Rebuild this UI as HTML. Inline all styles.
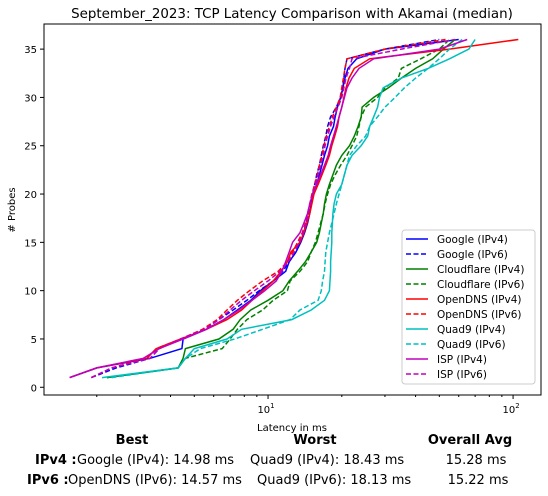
<!DOCTYPE html>
<html><head><meta charset="utf-8">
<style>
body{margin:0;width:548px;height:496px;background:#fff;overflow:hidden;font-family:"DejaVu Sans","Liberation Sans",sans-serif;}
svg{position:absolute;left:0;top:0}
</style></head>
<body>
<svg id="chart" width="548" height="496" font-family="DejaVu Sans, Liberation Sans, sans-serif"></svg>
<script>
const probes = [1,2,3,4,5,6,7,8,9,10,11,12,13,14,15,16,17,18,19,20,21,22,23,24,25,26,27,28,29,30,31,32,33,34,35,36];
const googleV4 = [1.55,2.0,3.3,4.45,4.5,5.6,6.6,7.5,8.5,9.3,10.5,11.8,12.2,13,13.6,14.1,14.5,14.8,15.0,15.2,15.8,16.2,16.6,17,17.5,17.8,18.5,18.8,19.2,19.8,20.2,20.6,21.2,23,30,60];
const googleV6 = [1.9,2.4,3.3,3.6,4.4,5.5,6.3,7.2,8.2,9.2,10.5,11.5,12.2,13,13.5,14,14.3,14.6,14.9,15.2,15.5,15.8,16.2,16.5,16.8,17.2,17.5,18,19,19.8,20.2,20.4,20.6,21,30,50];
const cloudV4 = [2.2,4.3,4.5,4.6,6.3,7.2,7.7,8.5,10,11.5,12.2,13.2,14.2,15,15.8,16.2,16.5,16.8,17,17.3,17.8,18.4,19,20,21.5,22.5,23.3,24,24.2,27,31,35,40,47,52,58];
const cloudV6 = [2.2,4.3,4.6,6.5,7.0,7.5,8.2,9.5,10.5,12,12.3,13.5,14.5,15.0,15.6,16,16.4,16.8,17.1,17.5,18,18.8,19.8,21,22,23,23.5,24,25,28,30,34,35,42,50,55];
const openV4 = [1.55,2.0,3.2,3.5,4.4,5.6,6.8,7.8,8.6,9.5,10.5,11.3,12.0,12.4,13.5,14,14.4,14.8,15.1,15.4,16,16.6,17.2,17.8,18.2,18.7,19.2,19.5,20,20.4,20.8,21.4,22.5,26,55,105];
const openV6 = [1.9,2.3,3.2,3.5,4.4,5.4,6.2,6.8,7.5,8.4,9.5,11,12,12.6,13.2,13.8,14.2,14.5,14.8,15.1,15.5,15.9,16.2,16.6,16.9,17.3,17.8,18.3,19,19.7,20,20.3,20.6,21,30,53];
const quadV4 = [2.1,4.3,4.6,5.0,6.8,7.8,12.5,15,17,17.8,17.9,18,18,18.1,18.2,18.2,18.3,18.4,18.6,19,20,20.5,21,22,24,25.5,26,27,28,28.5,29.5,35,45,55,66,70];
const quadV6 = [2.3,4.3,4.6,5.3,7.3,9.5,12.3,13.5,16,16.5,16.7,17,17.1,17.2,17.5,17.8,18.2,18.6,19,19.5,20,20.5,21,21.5,23,25,26,28,30,33,36,40,45,50,55,62];
const ispV4 = [1.55,2.0,3.1,3.6,4.5,5.6,6.6,7.6,8.6,9.7,10.8,11.4,11.8,12.2,12.6,13.5,14,14.5,14.8,15.2,15.8,16.4,17,17.6,18,18.5,19,19.5,20,20.5,21,22,23.5,27,50,65];
const ispV6 = [1.9,2.3,3.3,3.6,4.4,5.5,6.3,7.0,7.8,8.8,10,11.2,12.1,12.8,13.4,13.9,14.3,14.6,14.9,15.2,15.6,16,16.4,16.8,17.1,17.5,18,18.6,19.3,20,20.4,20.8,21.5,22,35,58];
const seriesNames = ["Google (IPv4)","Google (IPv6)","Cloudflare (IPv4)","Cloudflare (IPv6)","OpenDNS (IPv4)","OpenDNS (IPv6)","Quad9 (IPv4)","Quad9 (IPv6)","ISP (IPv4)","ISP (IPv6)"];
const seriesData = [googleV4,googleV6,cloudV4,cloudV6,openV4,openV6,quadV4,quadV6,ispV4,ispV6];
const seriesColors = ["#0000ff","#0000ff","#008000","#008000","#ff0000","#ff0000","#00bfbf","#00bfbf","#bf00bf","#bf00bf"];
const yTicks = [0,5,10,15,20,25,30,35];

const NS="http://www.w3.org/2000/svg";
const svg=document.getElementById('chart');
const L=44,R=541,T=24,B=395;
const xmin=Math.log10(1.218), xmax=Math.log10(130);
const ymin=-0.8, ymax=37.6;
function xs(v){return L+(Math.log10(v)-xmin)/(xmax-xmin)*(R-L);}
function ys(v){return B-(v-ymin)/(ymax-ymin)*(B-T);}
function mk(tag,attrs,parent){const e=document.createElementNS(NS,tag);for(const k in attrs)e.setAttribute(k,attrs[k]);(parent||svg).appendChild(e);return e;}

const title=mk('text',{x:292,y:18,'text-anchor':'middle','font-size':13.4});


title.textContent='September_2023: TCP Latency Comparison with Akamai (median)';

const gClip=mk('clipPath',{id:'pc'});mk('rect',{x:L,y:T,width:R-L,height:B-T},gClip);
const plot=mk('g',{'clip-path':'url(#pc)'});


seriesData.forEach((d,i)=>{
  const pts=d.map((v,j)=>xs(v).toFixed(1)+','+ys(probes[j]).toFixed(1)).join(' ');
  const p=mk('polyline',{points:pts,fill:'none',stroke:seriesColors[i],'stroke-width':1.5,'stroke-dasharray':i%2?'5,2.5':'none'},plot);
  
  
});

const frame=mk('rect',{x:L,y:T,width:R-L,height:B-T,fill:'none',stroke:'#000','stroke-width':1});



yTicks.forEach(t=>{
  const y=ys(t);
  mk('line',{x1:L-4,x2:L,y1:y,y2:y,stroke:'#000'});
  const tx=mk('text',{x:L-7,y:y+4,'text-anchor':'end','font-size':10});
  
  
  tx.textContent=t;
});
for(let dec=1;dec<=100;dec*=10){for(let m=1;m<10;m++){const v=m*dec;if(v<1.218||v>130)continue;const x=xs(v);
  mk('line',{x1:x,x2:x,y1:B,y2:B+(m===1?4:2),stroke:'#000'});
  if(m===1){const tx=mk('text',{x:x-2,y:B+18,'text-anchor':'middle','font-size':10});
    
    
    tx.textContent='10';const s=mk('tspan',{dy:-5,'font-size':7},tx);s.textContent=String(Math.log10(v));}}}

const xl=mk('text',{x:292,y:431,'text-anchor':'middle','font-size':10});


xl.textContent='Latency in ms';
const yl=mk('text',{x:15,y:210,'text-anchor':'middle','font-size':10,transform:'rotate(-90 15 210)'});


yl.textContent='# Probes';

const leg=mk('g',{});


mk('rect',{x:402,y:230,width:133,height:154,rx:3,fill:'#fff','fill-opacity':0.85,stroke:'#ccc'},leg);
seriesNames.forEach((n,i)=>{
  const y=239+i*15;
  const e=mk('g',{},leg);
  
  
  mk('line',{x1:406,x2:428,y1:y,y2:y,stroke:seriesColors[i],'stroke-width':1.5,'stroke-dasharray':i%2?'5,2.5':'none'},e);
  const t=mk('text',{x:437,y:y+4,'font-size':10.5},e);t.textContent=n;
});

function txt(x,y,s,name,bold,anchor){const t=mk('text',{x:x,y:y,'font-size':13,'text-anchor':anchor||'start','font-weight':bold?'bold':'normal'});
  
  
  t.textContent=s;return t;}
txt(132,444,'Best','summary-best-header',true,'middle');
txt(315,444,'Worst','summary-worst-header',true,'middle');
txt(470,444,'Overall Avg','summary-avg-header',true,'middle');
txt(35,464,'IPv4 :','summary-ipv4-label',true);
txt(77,464,'Google (IPv4): 14.98 ms','summary-ipv4-best');
txt(250,464,'Quad9 (IPv4): 18.43 ms','summary-ipv4-worst');
txt(476,464,'15.28 ms','summary-ipv4-avg',false,'middle');
txt(27,484,'IPv6 :','summary-ipv6-label',true);
txt(68,484,'OpenDNS (IPv6): 14.57 ms','summary-ipv6-best');
txt(257,484,'Quad9 (IPv6): 18.13 ms','summary-ipv6-worst');
txt(478,484,'15.22 ms','summary-ipv6-avg',false,'middle');
</script>
</body></html>
